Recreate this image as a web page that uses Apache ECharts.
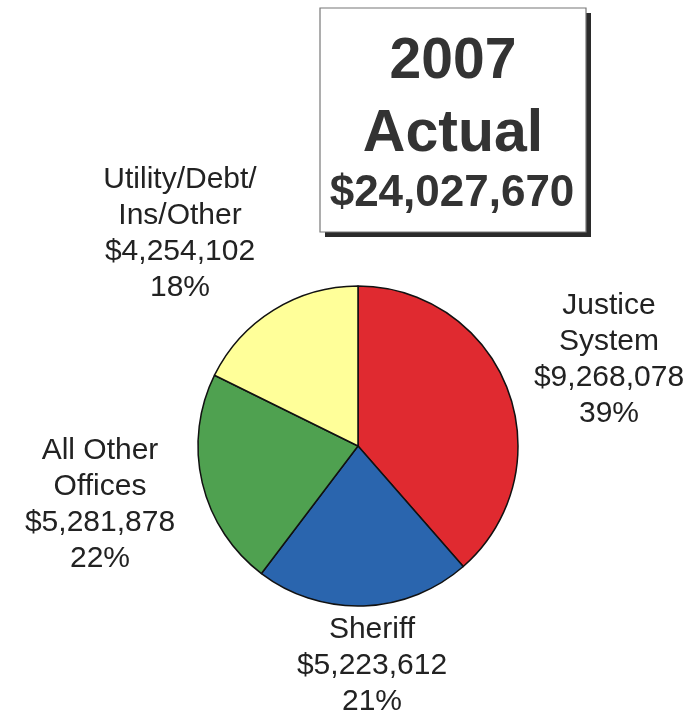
<!DOCTYPE html>
<html>
<head>
<meta charset="utf-8">
<script src="https://cdn.jsdelivr.net/npm/echarts@6/dist/echarts.min.js"></script>
<style>
html,body{margin:0;padding:0;background:#fff;}
#chart{width:700px;height:718px;}
</style>
</head>
<body>
<div id="chart"></div>
<script>
// ---- data ----
const categories = ['Justice System', 'Sheriff', 'All Other Offices', 'Utility/Debt/Ins/Other'];
const labelNames = ['Justice\nSystem', 'Sheriff', 'All Other\nOffices', 'Utility/Debt/\nIns/Other'];
const amounts = [9268078, 5223612, 5281878, 4254102];
const percents = [39, 21, 22, 18];
const sliceColors = ['#E02A30', '#2A65AE', '#4FA150', '#FFFF99'];
const titleYear = '2007';
const titleKind = 'Actual';
const titleTotal = 24027670;

// label anchor positions (block centres)
const labelPos = [[609, 360], [372, 666], [100, 505], [180, 234]];

const fontFamily = '"Liberation Sans", Arial, Helvetica, sans-serif';
const fmt = v => '$' + v.toLocaleString('en-US');

const chart = echarts.init(document.getElementById('chart'), null, {renderer: 'canvas'});

const pieData = categories.map((c, i) => ({
  name: c,
  value: amounts[i],
  itemStyle: {color: sliceColors[i]}
}));

const option = {
  animation: false,
  backgroundColor: '#ffffff',
  graphic: [
    {
      type: 'rect',
      shape: {x: 325, y: 13, width: 266, height: 224},
      style: {fill: '#2b2b2b'},
      z: 1
    },
    {
      type: 'rect',
      shape: {x: 320, y: 8, width: 266, height: 224},
      style: {fill: '#ffffff', stroke: '#777', lineWidth: 1.2},
      z: 2
    },
    {
      type: 'text', x: 453, y: 62, z: 3,
      style: {text: titleYear, font: 'bold 57px ' + fontFamily, fill: '#333',
              align: 'center', verticalAlign: 'middle'}
    },
    {
      type: 'text', x: 453, y: 135, z: 3,
      style: {text: titleKind, font: 'bold 59px ' + fontFamily, fill: '#333',
              align: 'center', verticalAlign: 'middle'}
    },
    {
      type: 'text', x: 452, y: 194, z: 3,
      style: {text: fmt(titleTotal), font: 'bold 44px ' + fontFamily, fill: '#333',
              align: 'center', verticalAlign: 'middle'}
    }
  ],
  series: [{
    type: 'pie',
    center: [358, 446],
    radius: 160,
    startAngle: 90,
    clockwise: true,
    avoidLabelOverlap: false,
    silent: true,
    data: pieData,
    itemStyle: {borderColor: '#111', borderWidth: 1.5},
    label: {
      show: true,
      position: 'outside',
      fontFamily: fontFamily,
      fontSize: 30,
      lineHeight: 36,
      color: '#222',
      align: 'center',
      formatter: p => labelNames[p.dataIndex] + '\n' + fmt(amounts[p.dataIndex]) + '\n' + percents[p.dataIndex] + '%'
    },
    labelLine: {show: false},
    labelLayout: params => ({
      x: labelPos[params.dataIndex][0],
      y: labelPos[params.dataIndex][1],
      align: 'center',
      verticalAlign: 'middle'
    })
  }]
};
chart.setOption(option);
</script>
</body>
</html>
